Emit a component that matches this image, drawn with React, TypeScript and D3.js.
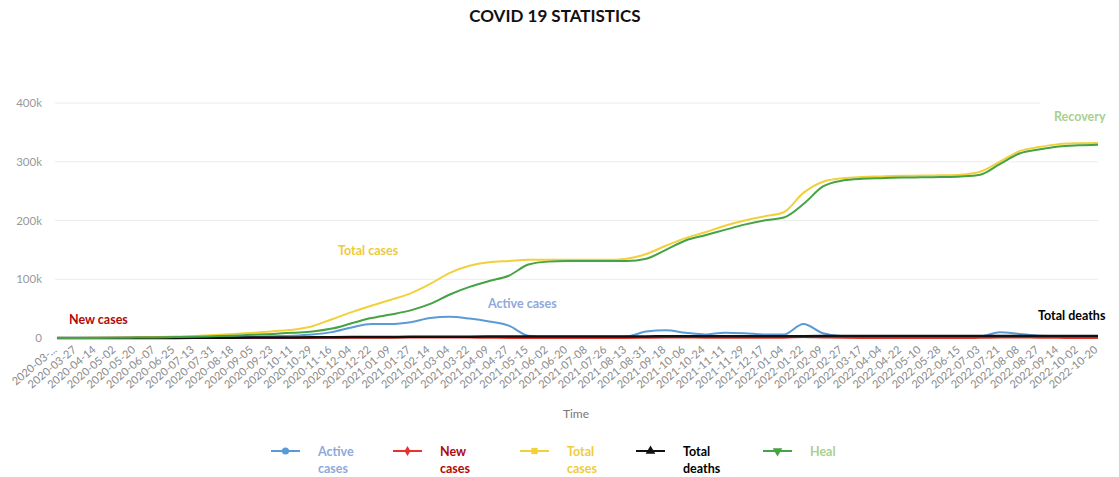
import React from "react";
import * as d3 from "d3";

const dates = [
  "2020-03-09","2020-03-27","2020-04-14","2020-05-02","2020-05-20","2020-06-07","2020-06-25","2020-07-13","2020-07-31","2020-08-18",
  "2020-09-05","2020-09-23","2020-10-11","2020-10-29","2020-11-16","2020-12-04","2020-12-22","2021-01-09","2021-01-27","2021-02-14",
  "2021-03-04","2021-03-22","2021-04-09","2021-04-27","2021-05-15","2021-06-02","2021-06-20","2021-07-08","2021-07-26","2021-08-13",
  "2021-08-31","2021-09-18","2021-10-06","2021-10-24","2021-11-11","2021-11-29","2021-12-17","2022-01-04","2022-01-22","2022-02-09",
  "2022-02-27","2022-03-17","2022-04-04","2022-04-22","2022-05-10","2022-05-28","2022-06-15","2022-07-03","2022-07-21","2022-08-08",
  "2022-08-27","2022-09-14","2022-10-02","2022-10-20",
];
const tickLabels = dates.map((d, i) => (i === 0 ? "2020-03-..." : d));

// values in thousands
const activeCases = [
  0,0,0.1,0.2,0.3,0.4,0.6,0.8,1,1.5,
  2,3,4,6,10,18,24,24,27,34,
  36,33,28,21,4,2,2,2,2,2.5,
  11,13,9,6,9,8,6,6,24,8,
  3,3,3,3,3,3,3,3,10,7,
  4,3.5,3.5,3.5,
];
const newCases = [
  0,0.01,0.02,0.02,0.03,0.03,0.05,0.06,0.08,0.1,
  0.11,0.13,0.14,0.2,0.55,0.6,0.6,0.55,0.7,0.9,
  1.0,0.7,0.35,0.15,0.1,0,0,0,0,0.1,
  0.45,0.8,0.75,0.6,0.6,0.5,0.4,0.4,1.8,1.0,
  0.3,0.1,0.06,0.05,0.03,0.03,0.05,0.3,0.9,1.0,
  0.4,0.25,0.1,0.05,
];
const totalCases = [
  0,0.1,0.3,0.6,1,1.5,2.5,3.5,5,7,
  9,11.5,14,20,32,44,55,65,76,92,
  111,123,129,131,133,133,133,133,133,135,
  143,157,170,180,191,200,207,214,247,266,
  272,274,275,276,276.5,277,278,283,300,318,
  325,330,331.5,332,
];
const totalDeaths = [
  0,0,0.01,0.03,0.06,0.1,0.15,0.25,0.35,0.5,
  0.65,0.8,0.95,1.1,1.3,1.5,1.7,1.85,2.0,2.1,
  2.2,2.3,2.4,2.5,2.55,2.6,2.6,2.62,2.65,2.7,
  2.75,2.8,2.85,2.9,2.95,3.0,3.0,3.05,3.15,3.25,
  3.3,3.32,3.34,3.35,3.36,3.37,3.38,3.39,3.42,3.46,
  3.5,3.52,3.53,3.54,
];
const heal = [
  0,0.05,0.2,0.4,0.7,1,1.5,2,3,4,
  5.5,7,9,11,16,25,34,40,47,58,
  74,87,97,106,125,130,131,131,131,131,
  135,150,166,175,184,193,200,205,228,258,
  268,271,272,273,273.5,274,275,278,296,314,
  321,326,328,329,
];
const yTicks = [0, 100, 200, 300, 400];

const series = [
  { name: ["Active", "cases"], values: activeCases, color: "#5b9bd5", width: 2, text: "#8ea9db", symbol: "circle" },
  { name: ["New", "cases"], values: newCases, color: "#e8322d", width: 2, text: "#b00a0a", symbol: "diamond" },
  { name: ["Total", "cases"], values: totalCases, color: "#f2d03b", width: 2, text: "#f0cc3a", symbol: "square" },
  { name: ["Total", "deaths"], values: totalDeaths, color: "#111111", width: 2.5, text: "#000000", symbol: "triangle" },
  { name: ["Heal"], values: heal, color: "#45a345", width: 2, text: "#a9d08e", symbol: "triangleDown" },
];

const FONT = "Lato, 'Open Sans', sans-serif";

export default function App() {
  const W = 1119, H = 477;
  const x = d3.scalePoint<string>().domain(dates).range([57, 1098]);
  const y = d3.scaleLinear().domain([0, 400]).range([338, 103]);
  const line = (vals: number[]) =>
    d3.line<number>().x((_, i) => x(dates[i])!).y((v) => y(v)).curve(d3.curveMonotoneX)(vals) || "";

  const symbolPath = (s: string) => {
    const map: any = {
      circle: d3.symbolCircle, diamond: d3.symbolDiamond, square: d3.symbolSquare,
      triangle: d3.symbolTriangle, triangleDown: d3.symbolTriangle,
    };
    return d3.symbol().type(map[s]).size(s === "diamond" ? 30 : 40)() || "";
  };

  const legendX = [271, 393, 520, 636, 763];

  return (
    <svg width={W} height={H} style={{ position: "absolute", left: 0, top: 0, background: "#fff" }}>
      <text x={555} y={22} textAnchor="middle" fontFamily={FONT} fontWeight="bold" fontSize={17} fill="#111">
        COVID 19 STATISTICS
      </text>
      {yTicks.map((t) => (
        <g key={t}>
          <line x1={55} x2={1098} y1={y(t)} y2={y(t)} stroke="#ececec" strokeWidth={1} />
          <text x={42} y={y(t)} dy="0.35em" textAnchor="end" fontFamily={FONT} fontSize={11.5} fill="#999">
            {t === 0 ? "0" : `${t}k`}
          </text>
        </g>
      ))}
      {dates.map((d, i) => (
        <text
          key={d}
          transform={`translate(${x(d)! - 2},${348}) rotate(-40)`}
          textAnchor="end"
          dy="0.35em"
          fontFamily={FONT}
          fontSize={11}
          fill="#8a8a8a"
        >
          {tickLabels[i]}
        </text>
      ))}
      <text x={576} y={418} textAnchor="middle" fontFamily={FONT} fontSize={12} fill="#777">Time</text>
      {series.map((s) => (
        <path key={s.name.join(" ")} d={line(s.values)} fill="none" stroke={s.color} strokeWidth={s.width} strokeLinejoin="round" />
      ))}
      {/* annotations */}
      <text x={69} y={324} fontFamily={FONT} fontWeight="bold" fontSize={12.5} fill="#b00a0a">New cases</text>
      <text x={338} y={255} fontFamily={FONT} fontWeight="bold" fontSize={12.5} fill="#efc93c">Total cases</text>
      <text x={488} y={308} fontFamily={FONT} fontWeight="bold" fontSize={12.5} fill="#8ea9db">Active cases</text>
      <text x={1038} y={320} fontFamily={FONT} fontWeight="bold" fontSize={12.5} fill="#000">Total deaths</text>
      <rect x={1040} y={96} width={79} height={34} fill="#fff" />
      <text x={1054} y={121} fontFamily={FONT} fontWeight="bold" fontSize={12.5} fill="#a9d08e">Recovery</text>
      {/* legend */}
      {series.map((s, i) => {
        const lx = legendX[i];
        const ly = 451;
        return (
          <g key={"lg" + i}>
            <line x1={lx} x2={lx + 29} y1={ly} y2={ly} stroke={s.color} strokeWidth={2} />
            <path
              d={symbolPath(s.symbol)}
              transform={`translate(${lx + 14.5},${ly}) ${s.symbol === "triangleDown" ? "rotate(180)" : ""}`}
              fill={s.color}
            />
            {s.name.map((n, j) => (
              <text key={n} x={lx + 47} y={ly + 5 + j * 17} fontFamily={FONT} fontWeight="bold" fontSize={12.5} fill={s.text}>
                {n}
              </text>
            ))}
          </g>
        );
      })}
    </svg>
  );
}
